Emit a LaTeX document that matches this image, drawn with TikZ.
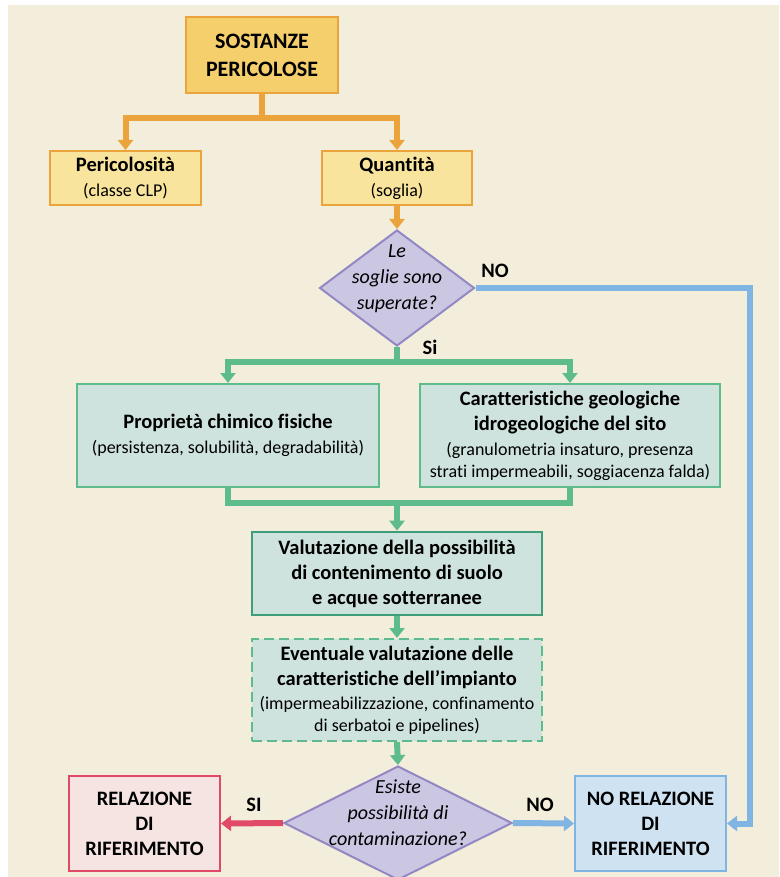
\documentclass[tikz,border=0pt]{standalone}
\usepackage{fontspec}
\setmainfont{Carlito}[Ligatures={NoCommon}]
\usetikzlibrary{arrows.meta,shapes.geometric}
\definecolor{bgc}{HTML}{F3EEDC}
\definecolor{orngc}{HTML}{EBA33C}
\definecolor{goldfill}{HTML}{F5CF6B}
\definecolor{yelfill}{HTML}{F8E49C}
\definecolor{diafill}{HTML}{CBC6E2}
\definecolor{diadraw}{HTML}{9488C4}
\definecolor{grnc}{HTML}{5DBB8C}
\definecolor{grndark}{HTML}{3F9E7A}
\definecolor{grnfill}{HTML}{CFE3DE}
\definecolor{redc}{HTML}{E04A66}
\definecolor{redfill}{HTML}{F5E4E1}
\definecolor{bluec}{HTML}{7FB4E3}
\definecolor{bluefill}{HTML}{CFE2F1}
\tikzset{
  regfont/.style={font=\fontsize{18}{22}\selectfont},
  boldfont/.style={font=\fontsize{20.5}{25}\selectfont\bfseries},
  titlebox/.style={draw=orngc, line width=2pt, fill=goldfill, align=center, inner sep=0pt,
    font=\fontsize{22}{28}\selectfont\bfseries},
  ybox/.style={draw=orngc, line width=2pt, fill=yelfill, align=center, inner sep=0pt, regfont},
  gbox/.style={draw=grnc, line width=2pt, fill=grnfill, align=center, inner sep=0pt, regfont},
  gboxstrong/.style={draw=grndark, line width=2.6pt, fill=grnfill, align=center, inner sep=0pt, boldfont},
  gboxdash/.style={draw=grnc, line width=2pt, dash pattern=on 10pt off 5pt, fill=grnfill, align=center, inner sep=0pt, regfont},
  redbox/.style={draw=redc, line width=2pt, fill=redfill, align=center, inner sep=0pt, boldfont},
  bluebox/.style={draw=bluec, line width=2pt, fill=bluefill, align=center, inner sep=0pt, boldfont},
  dia/.style={diamond, draw=diadraw, line width=2pt, fill=diafill, inner sep=0pt},
  dtext/.style={align=center, inner sep=0pt, font=\fontsize{20}{26}\selectfont\itshape},
  lbl/.style={inner sep=0pt, font=\fontsize{20.5}{25}\selectfont\bfseries},
  tip/.style={-{Triangle[width=15pt,length=10pt]}},
  oconn/.style={draw=orngc, line width=6pt},
  gconn/.style={draw=grnc, line width=6pt},
  bconn/.style={draw=bluec, line width=6pt},
  rconn/.style={draw=redc, line width=6pt},
}
\begin{document}
\begin{tikzpicture}[x=1pt,y=-1pt]
\useasboundingbox (0,0) rectangle (779,877);
\fill[bgc] (8,5) rectangle (779,877);

% nodes
\node[titlebox, minimum width=152pt, minimum height=76pt] (top) at (262,55) {SOSTANZE\\PERICOLOSE};
\node[ybox, minimum width=151pt, minimum height=54pt] (per) at (125.5,178)
  {{\bfseries\fontsize{20.5}{25}\selectfont Pericolosità}\\[3pt](classe CLP)};
\node[ybox, minimum width=150pt, minimum height=54pt] (qua) at (397,178)
  {{\bfseries\fontsize{20.5}{25}\selectfont Quantità}\\[3pt](soglia)};
\node[dia, minimum width=155pt, minimum height=116pt] (d1) at (397,288) {};
\node[dtext] (d1t) at (397,279) {Le\\soglie sono\\superate?};

\node[gbox, minimum width=302pt, minimum height=103pt] (lb) at (228,435.5)
  {{\bfseries\fontsize{20.5}{25}\selectfont Proprietà chimico fisiche}\\[3pt](persistenza, solubilità, degradabilità)};
\node[gbox, minimum width=300pt, minimum height=103pt] (rb) at (570,435.5)
  {{\bfseries\fontsize{20.5}{25}\selectfont Caratteristiche geologiche}\\[3pt]
   {\bfseries\fontsize{20.5}{25}\selectfont idrogeologiche del sito}\\[3pt]
   (granulometria insaturo, presenza\\strati impermeabili, soggiacenza falda)};
\node[gboxstrong, minimum width=290pt, minimum height=83pt] (val) at (397,573.5)
  {Valutazione della possibilità\\di contenimento di suolo\\e acque sotterranee};
\node[gboxdash, minimum width=290pt, minimum height=102pt] (ev) at (397,690)
  {{\bfseries\fontsize{20.5}{25}\selectfont Eventuale valutazione delle}\\[3pt]
   {\bfseries\fontsize{20.5}{25}\selectfont caratteristiche dell’impianto}\\[2pt]
   (impermeabilizzazione, confinamento\\di serbatoi e pipelines)};
\node[dia, minimum width=228pt, minimum height=114pt] (d2) at (398,823) {};
\node[dtext] (d2t) at (398,812.5) {Esiste\\possibilità di\\contaminazione?};
\node[redbox, minimum width=151pt, minimum height=95pt] (rel) at (144.5,823.5)
  {RELAZIONE\\DI\\RIFERIMENTO};
\node[bluebox, minimum width=151pt, minimum height=95pt] (norel) at (650.5,823.5)
  {NO RELAZIONE\\DI\\RIFERIMENTO};

% labels
\node[lbl] (lno1) at (495,271) {NO};
\node[lbl] (lsi1) at (430,347) {Si};
\node[lbl] (lsi2) at (254,805) {SI};
\node[lbl] (lno2) at (540,805) {NO};

% junction coordinates
\coordinate (j1) at (262,118);
\coordinate (j2) at (397,362);
\coordinate (j3) at (397,503);
\coordinate (bend) at (750,0);

% orange connectors
\draw[oconn] (top.south) -- (j1);
\draw[oconn, tip] (j1) -| (per.north);
\draw[oconn, tip] (j1) -| (qua.north);
\draw[oconn, tip] (qua.south) -- (d1.north);

% green connectors
\draw[gconn] (d1.south) -- (j2);
\draw[gconn, tip] (j2) -| (lb.north);
\draw[gconn, tip] (j2) -| (rb.north);
\draw[gconn] (lb.south) |- (j3);
\draw[gconn] (rb.south) |- (j3);
\draw[gconn, tip] (j3) -- (val.north);
\draw[gconn, tip] (val.south) -- (ev.north);
\draw[gconn, tip] (ev.south) -- (d2.north);

% blue connectors
\draw[bconn, tip] (d1.east) -- (d1.east -| bend) |- (norel.east);
\draw[bconn, tip] (d2.east) -- (norel.west);
% red connector
\draw[rconn, tip] (d2.west) -- (rel.east);
\end{tikzpicture}
\end{document}
